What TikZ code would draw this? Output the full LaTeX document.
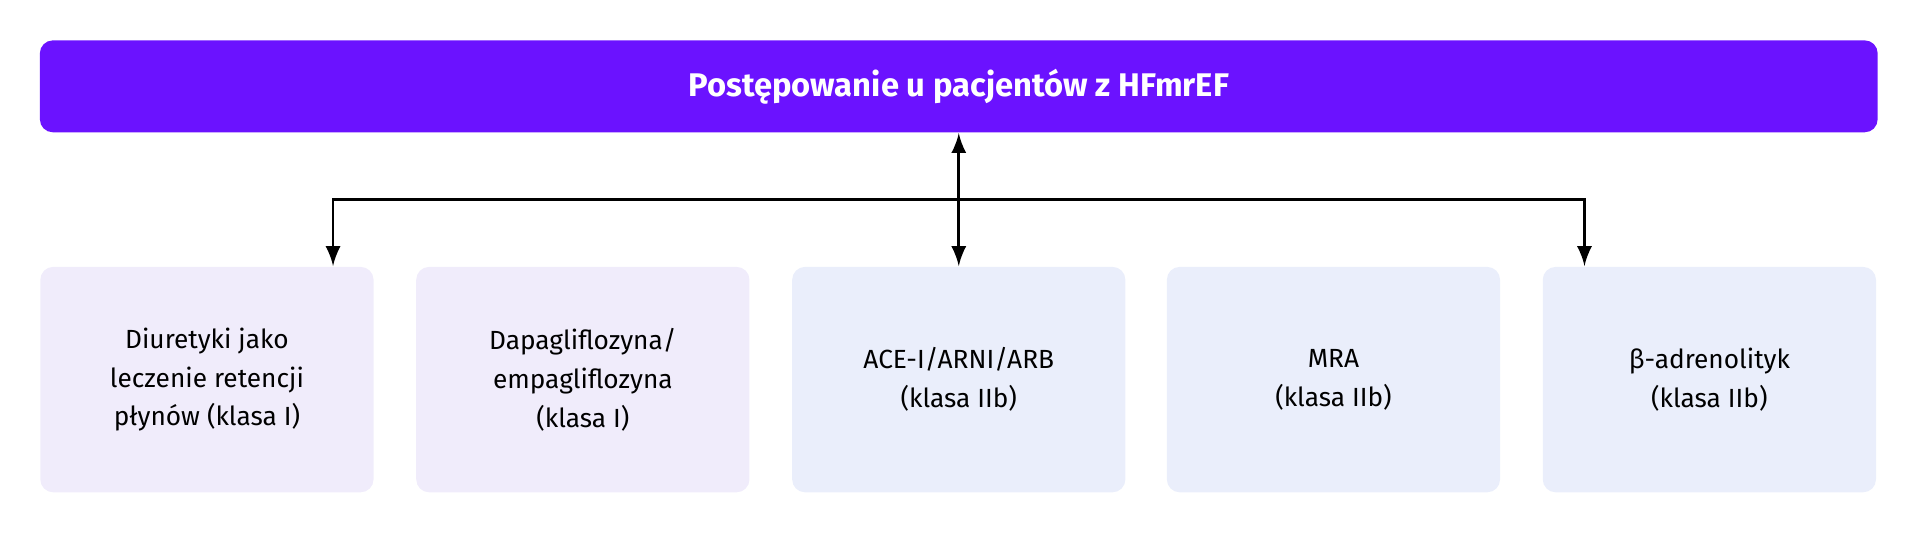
\documentclass[tikz,border=0pt]{standalone}
\usepackage{fontspec}
\setmainfont{Fira Sans}
\usetikzlibrary{positioning}
\definecolor{headviolet}{HTML}{6B12FF}
\definecolor{lavbox}{HTML}{F0ECFB}
\definecolor{bluebox}{HTML}{EAEEFB}
\begin{document}
\begin{tikzpicture}[x=0.01cm,y=-0.01cm,>=latex]
    \tikzstyle{header}=[fill=headviolet,rounded corners=3pt,text=white,font=\fontsize{7.6}{9}\selectfont\bfseries,minimum width=15cm,minimum height=0.75cm,inner sep=0pt]
    \tikzstyle{drug}=[rounded corners=3pt,minimum width=2.72cm,minimum height=1.84cm,align=center,font=\fontsize{6.1}{9}\selectfont,inner sep=0pt]
    \tikzstyle{link}=[draw=black,line width=0.6pt]

    \useasboundingbox (0,0) rectangle (1568,436);

    % header
    \node[header] (head) at (783,70.5) {Postępowanie u pacjentów z HFmrEF};

    % drug boxes
    \node[drug,fill=lavbox] (diur) at (169,310) {Diuretyki jako\\leczenie retencji\\płynów (klasa I)};
    \node[drug,fill=lavbox] (dapa) at (476,310) {Dapagliflozyna/\\empagliflozyna\\(klasa I)};
    \node[drug,fill=bluebox] (acei) at (783,310) {ACE-I/ARNI/ARB\\(klasa IIb)};
    \node[drug,fill=bluebox] (mra) at (1089,310) {MRA\\(klasa IIb)};
    \node[drug,fill=bluebox] (beta) at (1396,310) {β-adrenolityk\\(klasa IIb)};

    % connectors
    \coordinate (split) at (783,163);
    \draw[link,<->] (head.south) -- (acei.north);
    \draw[link,->] (split) -| (diur.north -| 272,0);
    \draw[link,->] (split) -| (beta.north -| 1294,0);
\end{tikzpicture}
\end{document}
